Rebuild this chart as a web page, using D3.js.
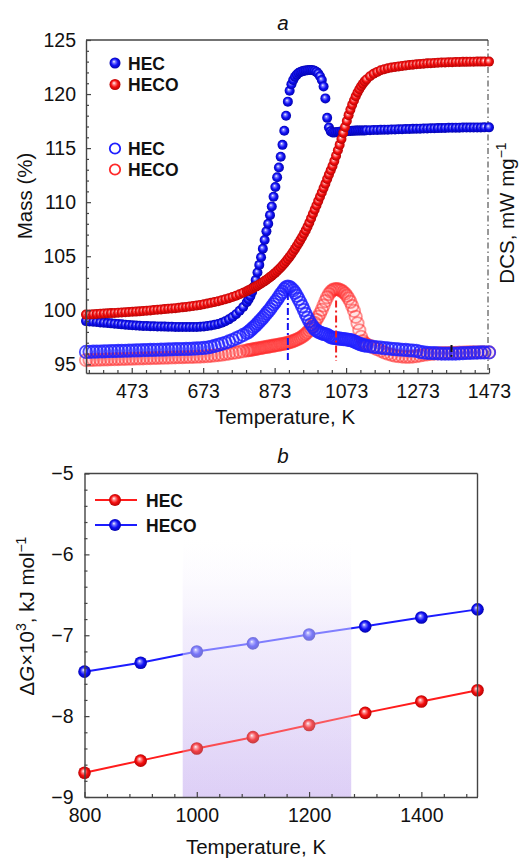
<!DOCTYPE html>
<html>
<head>
<meta charset="utf-8">
<script src="https://cdn.jsdelivr.net/npm/d3@7"></script>
<style>
  body { margin: 0; background: #fff; }
  text { font-family: "Liberation Sans", Arial, sans-serif; fill: #111; }
</style>
</head>
<body>
<svg id="chart" width="524" height="859"></svg>
<script>
// ---- panel a: TG (mass) and DSC curves ----
// temperature grid of the instrument (K); denser through the transitions
const temps = [...d3.range(345, 800, 10), ...d3.range(800, 1135, 5), ...d3.range(1140, 1470, 10), 1473]

const hecMass = [
  99.00, 98.97, 98.94, 98.91, 98.88, 98.85, 98.82, 98.79, 98.76, 98.73,
  98.70, 98.67, 98.64, 98.61, 98.59, 98.57, 98.55, 98.54, 98.53, 98.52,
  98.51, 98.50, 98.49, 98.48, 98.47, 98.46, 98.46, 98.45, 98.45, 98.45,
  98.45, 98.46, 98.48, 98.51, 98.55, 98.60, 98.66, 98.74, 98.84, 98.98,
  99.16, 99.38, 99.64, 99.95, 100.30, 100.75,
  101.00, 101.30, 101.70, 102.20, 102.80, 103.50, 104.20, 104.90, 105.70, 106.50,
  107.30, 108.00, 108.80, 109.60, 110.50, 111.40, 112.30, 113.20, 114.20, 115.30,
  116.60, 118.00, 119.30, 120.30, 120.90, 121.30, 121.60, 121.80, 121.95, 122.05,
  122.10, 122.15, 122.18, 122.20, 122.22, 122.22, 122.20, 122.15, 122.05, 121.90,
  121.65, 121.30, 120.70, 119.60, 117.80, 116.90, 116.55, 116.45, 116.45, 116.47,
  116.50, 116.52, 116.54, 116.55, 116.56, 116.57, 116.58, 116.59, 116.60, 116.61,
  116.62, 116.62, 116.63, 116.63, 116.64, 116.64, 116.65,
  116.66, 116.67, 116.68, 116.69, 116.70, 116.71, 116.72, 116.73, 116.74, 116.75,
  116.76, 116.77, 116.78, 116.79, 116.80, 116.81, 116.82, 116.83, 116.84, 116.85,
  116.86, 116.87, 116.88, 116.88, 116.89, 116.89, 116.90, 116.90, 116.90, 116.91,
  116.91, 116.91, 116.92,
  116.92
]

const hecoMass = [
  99.60, 99.62, 99.64, 99.66, 99.68, 99.70, 99.72, 99.74, 99.76, 99.78,
  99.80, 99.82, 99.84, 99.86, 99.88, 99.90, 99.93, 99.96, 99.99, 100.02,
  100.05, 100.08, 100.11, 100.14, 100.17, 100.20, 100.23, 100.27, 100.31, 100.35,
  100.40, 100.45, 100.50, 100.56, 100.62, 100.69, 100.76, 100.84, 100.93, 101.02,
  101.12, 101.23, 101.35, 101.48, 101.62, 101.77,
  101.85, 101.93, 102.01, 102.10, 102.19, 102.28, 102.38, 102.48, 102.59, 102.70,
  102.82, 102.94, 103.07, 103.20, 103.34, 103.48, 103.63, 103.79, 103.96, 104.14,
  104.33, 104.53, 104.74, 104.96, 105.19, 105.43, 105.68, 105.94, 106.21, 106.49,
  106.78, 107.08, 107.39, 107.72, 108.10, 108.50, 108.90, 109.30, 109.70, 110.10,
  110.50, 110.90, 111.30, 111.70, 112.15, 112.55, 112.95, 113.35, 113.80, 114.30,
  114.80, 115.30, 115.85, 116.40, 116.95, 117.50, 118.05, 118.55, 119.00, 119.40,
  119.80, 120.15, 120.45, 120.72, 120.96, 121.17, 121.35,
  121.65, 121.88, 122.05, 122.20, 122.30, 122.38, 122.45, 122.50, 122.55, 122.60,
  122.64, 122.68, 122.72, 122.75, 122.78, 122.81, 122.84, 122.86, 122.88, 122.90,
  122.92, 122.93, 122.94, 122.95, 122.96, 122.97, 122.98, 122.98, 122.99, 122.99,
  123.00, 123.00, 123.00,
  123.00
]

// DSC has no scale on the right axis: values are given in left-axis units
const hecDsc = [
  96.15, 96.16, 96.17, 96.18, 96.19, 96.20, 96.21, 96.22, 96.23, 96.24,
  96.25, 96.26, 96.27, 96.28, 96.29, 96.30, 96.31, 96.32, 96.33, 96.34,
  96.35, 96.36, 96.37, 96.38, 96.39, 96.40, 96.41, 96.42, 96.43, 96.44,
  96.45, 96.47, 96.49, 96.52, 96.56, 96.62, 96.70, 96.80, 96.90, 97.00,
  97.12, 97.25, 97.40, 97.55, 97.72, 97.90,
  98.00, 98.15, 98.30, 98.45, 98.60, 98.77, 98.95, 99.13, 99.30, 99.50,
  99.70, 99.90, 100.10, 100.33, 100.56, 100.78, 101.00, 101.25, 101.50, 101.70,
  101.95, 102.12, 102.20, 102.15, 102.02, 101.85, 101.62, 101.35, 101.05, 100.72,
  100.38, 100.02, 99.66, 99.31, 98.98, 98.70, 98.47, 98.28, 98.13, 98.02,
  97.94, 97.87, 97.82, 97.78, 97.74, 97.62, 97.52, 97.46, 97.44, 97.42,
  97.40, 97.38, 97.36, 97.34, 97.32, 97.30, 97.27, 97.24, 97.20, 97.13,
  97.05, 96.97, 96.90, 96.84, 96.79, 96.75, 96.72,
  96.67, 96.62, 96.58, 96.55, 96.50, 96.47, 96.44, 96.41, 96.38, 96.35,
  96.33, 96.30, 96.28, 96.25, 96.15, 96.10, 96.07, 96.05, 96.03, 96.02,
  96.00, 96.00, 96.00, 96.00, 96.00, 96.02, 96.03, 96.05, 96.07, 96.08,
  96.09, 96.10, 96.10,
  96.10
]

const hecoDsc = [
  95.40, 95.41, 95.42, 95.43, 95.44, 95.45, 95.46, 95.47, 95.48, 95.49,
  95.50, 95.51, 95.52, 95.53, 95.54, 95.55, 95.56, 95.57, 95.58, 95.59,
  95.60, 95.61, 95.62, 95.63, 95.64, 95.65, 95.66, 95.67, 95.68, 95.69,
  95.70, 95.71, 95.72, 95.74, 95.76, 95.79, 95.82, 95.86, 95.90, 95.95,
  96.00, 96.05, 96.10, 96.16, 96.22, 96.28,
  96.31, 96.34, 96.37, 96.40, 96.43, 96.46, 96.49, 96.52, 96.55, 96.58,
  96.61, 96.64, 96.67, 96.70, 96.73, 96.76, 96.79, 96.82, 96.85, 96.88,
  96.91, 96.95, 97.00, 97.05, 97.10, 97.16, 97.22, 97.29, 97.37, 97.46,
  97.56, 97.68, 97.82, 97.98, 98.16, 98.37, 98.60, 98.85, 99.12, 99.40,
  99.70, 100.05, 100.45, 100.85, 101.20, 101.50, 101.72, 101.86, 101.94, 101.97,
  101.95, 101.90, 101.82, 101.70, 101.55, 101.35, 101.10, 100.78, 100.40, 99.95,
  99.40, 98.80, 98.15, 97.55, 97.15, 96.95, 96.85,
  96.70, 96.55, 96.40, 96.25, 96.10, 95.98, 95.88, 95.80, 95.75, 95.72,
  95.70, 95.70, 95.72, 95.76, 95.82, 95.88, 95.93, 95.97, 96.00, 96.02,
  96.03, 96.04, 96.05, 96.06, 96.07, 96.08, 96.09, 96.10, 96.10, 96.11,
  96.11, 96.12, 96.12,
  96.12
]

// peak markers (dash-dot drop lines): temperature, top and bottom value
const peakTemps = [910, 1045, 1368]
const peakTops = [101.6, 100.9, 96.8]
const peakBottoms = [95.2, 95.3, 95.7]

const xTicksA = [473, 673, 873, 1073, 1273, 1473]
const yTicksA = [95, 100, 105, 110, 115, 120, 125]

// ---- panel b: Gibbs energy ----
const tempsB = [800, 900, 1000, 1100, 1200, 1300, 1400, 1500]
const hecG = [-8.70, -8.55, -8.40, -8.26, -8.11, -7.96, -7.82, -7.68]
const hecoG = [-7.45, -7.34, -7.20, -7.10, -6.99, -6.89, -6.78, -6.68]
const shadeRange = [975, 1275]
const xTicksB = [800, 1000, 1200, 1400]
const yTicksB = [-9, -8, -7, -6, -5]

const blue = '#1414f0'

const svg = d3.select('#chart')
const defs = svg.append('defs')

function sphereGrad(id, light, mid, dark) {
  const g = defs.append('radialGradient').attr('id', id)
    .attr('cx', '50%').attr('cy', '50%').attr('r', '55%')
    .attr('fx', '40%').attr('fy', '36%')
  g.append('stop').attr('offset', '0%').attr('stop-color', '#ffffff')
  g.append('stop').attr('offset', '22%').attr('stop-color', light)
  g.append('stop').attr('offset', '55%').attr('stop-color', mid)
  g.append('stop').attr('offset', '100%').attr('stop-color', dark)
}
sphereGrad('sph-blue', '#7d7dff', '#1010f5', '#0000a0')
sphereGrad('sph-red', '#ff8c8c', '#f51010', '#a80000')

const tickFont = 19.5
const titleFont = 20.5

function styleAxis(g) {
  g.select('.domain').attr('stroke', '#444').attr('stroke-width', 1.4)
  g.selectAll('.tick line').attr('stroke', '#444').attr('stroke-width', 1.2)
  g.selectAll('.tick text')
    .attr('font-size', tickFont)
    .attr('fill', '#111')
    .attr('font-family', '"Liberation Sans", Arial, sans-serif')
}

// ================= panel a =================
const xA = d3.scaleLinear().domain([345, 1473]).range([86, 489])
const yA = d3.scaleLinear().domain([94.2, 125]).range([373, 40])

const gA = svg.append('g')

gA.append('text').attr('x', 283).attr('y', 30).attr('text-anchor', 'middle')
  .attr('font-size', titleFont).attr('font-style', 'italic').text('a')

// frame: top solid, right dash-dot
gA.append('line').attr('x1', 86).attr('x2', 488).attr('y1', 40).attr('y2', 40)
  .attr('stroke', '#444').attr('stroke-width', 1.4)
gA.append('line').attr('x1', 488).attr('x2', 488).attr('y1', 40).attr('y2', 373)
  .attr('stroke', '#333').attr('stroke-width', 1).attr('stroke-dasharray', '6,3,1.5,3')

const massPts = (vals) => vals.map((v, i) => ({ t: temps[i], v: v }))

function openSeries(vals, color, opacity) {
  gA.append('g').selectAll('circle')
    .data(massPts(vals))
    .enter()
    .append('circle')
    .attr('cx', d => xA(d.t))
    .attr('cy', d => yA(d.v))
    .attr('r', 6.2)
    .attr('fill', color)
    .attr('fill-opacity', 0.06)
    .attr('stroke', color)
    .attr('stroke-opacity', opacity)
    .attr('stroke-width', 1.8)
}
function filledSeries(vals, grad) {
  gA.append('g').selectAll('circle')
    .data(massPts(vals))
    .enter()
    .append('circle')
    .attr('cx', d => xA(d.t))
    .attr('cy', d => yA(d.v))
    .attr('r', 5)
    .attr('fill', `url(#${grad})`)
}

openSeries(hecoDsc, '#ff2a2a', 0.5)
openSeries(hecDsc, '#2020ff', 0.8)

// dash-dot drop lines at the DSC peaks
const peakColors = [blue, '#f02020', '#111']
gA.append('g').selectAll('line')
  .data(peakTemps)
  .enter()
  .append('line')
  .attr('x1', d => xA(d))
  .attr('x2', d => xA(d))
  .attr('y1', (d, i) => yA(peakTops[i]))
  .attr('y2', (d, i) => yA(peakBottoms[i]))
  .attr('stroke', (d, i) => peakColors[i])
  .attr('stroke-width', 2)
  .attr('stroke-dasharray', '7,3,2,3')

filledSeries(hecMass, 'sph-blue')
filledSeries(hecoMass, 'sph-red')

// axes a
const axLeftA = gA.append('g').attr('transform', 'translate(86,0)')
  .call(d3.axisLeft(yA).tickValues(yTicksA).tickSize(-5).tickSizeOuter(0).tickPadding(10)
    .tickFormat(d3.format('d')))
styleAxis(axLeftA)
const minorYA = d3.range(95, 125).filter(v => v % 5 !== 0)
const axLeftAm = gA.append('g').attr('transform', 'translate(86,0)')
  .call(d3.axisLeft(yA).tickValues(minorYA).tickSize(-3).tickFormat(''))
axLeftAm.select('.domain').remove()
styleAxis(axLeftAm)

const axBotA = gA.append('g').attr('transform', 'translate(0,373)')
  .call(d3.axisBottom(xA).tickValues(xTicksA).tickSize(-5).tickSizeOuter(0).tickPadding(11)
    .tickFormat(d3.format('d')))
styleAxis(axBotA)
const minorXA = d3.range(353, 1474, 40).filter(v => !xTicksA.includes(v))
const axBotAm = gA.append('g').attr('transform', 'translate(0,373)')
  .call(d3.axisBottom(xA).tickValues(minorXA).tickSize(-3).tickFormat(''))
axBotAm.select('.domain').remove()
styleAxis(axBotAm)

gA.append('text').attr('x', 285).attr('y', 424).attr('text-anchor', 'middle')
  .attr('font-size', titleFont).text('Temperature, K')
gA.append('text').attr('transform', 'translate(32,196) rotate(-90)')
  .attr('text-anchor', 'middle').attr('font-size', titleFont).text('Mass (%)')

const dcs = gA.append('text').attr('transform', 'translate(514,213) rotate(-90)')
  .attr('text-anchor', 'middle').attr('font-size', titleFont)
dcs.append('tspan').text('DCS, mW mg')
dcs.append('tspan').attr('dy', -8).attr('font-size', 14).text('\u22121')

// legends a
const legA = [
  { y: 63, label: 'HEC', kind: 'filled', grad: 'sph-blue' },
  { y: 84.5, label: 'HECO', kind: 'filled', grad: 'sph-red' },
  { y: 148.5, label: 'HEC', kind: 'open', color: '#2020ff' },
  { y: 169.5, label: 'HECO', kind: 'open', color: '#ff2a2a' }
]
legA.forEach(d => {
  if (d.kind === 'filled') {
    gA.append('circle').attr('cx', 115).attr('cy', d.y).attr('r', 5.5)
      .attr('fill', `url(#${d.grad})`)
  } else {
    gA.append('circle').attr('cx', 115).attr('cy', d.y).attr('r', 5.2)
      .attr('fill', 'none').attr('stroke', d.color).attr('stroke-width', 1.8)
  }
  gA.append('text').attr('x', 128).attr('y', d.y + 6.5)
    .attr('font-size', 17.5).attr('font-weight', 'bold').text(d.label)
})

// ================= panel b =================
const xB = d3.scaleLinear().domain([800, 1500]).range([84.5, 477.5])
const yB = d3.scaleLinear().domain([-9, -5]).range([797, 473.5])

const gB = svg.append('g')
gB.append('text').attr('x', 283).attr('y', 463).attr('text-anchor', 'middle')
  .attr('font-size', titleFont).attr('font-style', 'italic').text('b')

// shaded temperature window
const shadeGrad = defs.append('linearGradient').attr('id', 'shade')
  .attr('x1', 0).attr('y1', 0).attr('x2', 0).attr('y2', 1)
shadeGrad.append('stop').attr('offset', '0%').attr('stop-color', '#ffffff').attr('stop-opacity', 0)
shadeGrad.append('stop').attr('offset', '35%').attr('stop-color', '#efe9fc').attr('stop-opacity', 1)
shadeGrad.append('stop').attr('offset', '100%').attr('stop-color', '#dccdf6').attr('stop-opacity', 1)
const veilGrad = defs.append('linearGradient').attr('id', 'veil')
  .attr('x1', 0).attr('y1', 0).attr('x2', 0).attr('y2', 1)
veilGrad.append('stop').attr('offset', '0%').attr('stop-color', '#ffffff').attr('stop-opacity', 0.5)
veilGrad.append('stop').attr('offset', '45%').attr('stop-color', '#f4f0fd').attr('stop-opacity', 0.45)
veilGrad.append('stop').attr('offset', '100%').attr('stop-color', '#e6dcf8').attr('stop-opacity', 0.12)

gB.append('rect')
  .attr('x', xB(shadeRange[0])).attr('width', xB(shadeRange[1]) - xB(shadeRange[0]))
  .attr('y', yB(-5.8)).attr('height', yB(-9) - yB(-5.8))
  .attr('fill', 'url(#shade)')

const lineB = d3.line().x(d => xB(d.t)).y(d => yB(d.v))
const seriesB = [
  { vals: hecG, color: '#ff1c1c', grad: 'sph-red' },
  { vals: hecoG, color: '#1c1cff', grad: 'sph-blue' }
]
seriesB.forEach(s => {
  const pts = s.vals.map((v, i) => ({ t: tempsB[i], v: v }))
  gB.append('path').datum(pts).attr('d', lineB)
    .attr('fill', 'none').attr('stroke', s.color).attr('stroke-width', 2)
  gB.append('g').selectAll('circle')
    .data(pts)
    .enter()
    .append('circle')
    .attr('cx', d => xB(d.t))
    .attr('cy', d => yB(d.v))
    .attr('r', 6.3)
    .attr('fill', `url(#${s.grad})`)
})

gB.append('rect')
  .attr('x', xB(shadeRange[0])).attr('width', xB(shadeRange[1]) - xB(shadeRange[0]))
  .attr('y', yB(-5.8)).attr('height', yB(-9) - yB(-5.8))
  .attr('fill', 'url(#veil)')

// frame b
gB.append('line').attr('x1', 84.5).attr('x2', 477.5).attr('y1', 473.5).attr('y2', 473.5)
  .attr('stroke', '#444').attr('stroke-width', 1.4)
gB.append('line').attr('x1', 477.5).attr('x2', 477.5).attr('y1', 473.5).attr('y2', 797)
  .attr('stroke', '#444').attr('stroke-width', 1.4)

const axLeftB = gB.append('g').attr('transform', 'translate(84.5,0)')
  .call(d3.axisLeft(yB).tickValues(yTicksB).tickSize(-5).tickSizeOuter(0).tickPadding(11)
    .tickFormat(d => d3.format('d')(d).replace('-', '\u2212')))
styleAxis(axLeftB)
const minorYB = d3.range(1, 20).filter(i => i % 5 !== 0).map(i => -9 + i * 0.2)
const axLeftBm = gB.append('g').attr('transform', 'translate(84.5,0)')
  .call(d3.axisLeft(yB).tickValues(minorYB).tickSize(-3).tickFormat(''))
axLeftBm.select('.domain').remove()
styleAxis(axLeftBm)

const axBotB = gB.append('g').attr('transform', 'translate(0,797)')
  .call(d3.axisBottom(xB).tickValues(xTicksB).tickSize(-5).tickSizeOuter(0).tickPadding(11)
    .tickFormat(d3.format('d')))
styleAxis(axBotB)
const minorXB = d3.range(840, 1500, 40).filter(v => !xTicksB.includes(v))
const axBotBm = gB.append('g').attr('transform', 'translate(0,797)')
  .call(d3.axisBottom(xB).tickValues(minorXB).tickSize(-3).tickFormat(''))
axBotBm.select('.domain').remove()
styleAxis(axBotBm)

gB.append('text').attr('x', 256).attr('y', 854).attr('text-anchor', 'middle')
  .attr('font-size', titleFont).text('Temperature, K')

const gl = gB.append('text').attr('transform', 'translate(34,616) rotate(-90)')
  .attr('text-anchor', 'middle').attr('font-size', titleFont)
gl.append('tspan').text('\u0394')
gl.append('tspan').attr('font-style', 'italic').text('G')
gl.append('tspan').text('\u00d710')
gl.append('tspan').attr('dy', -8).attr('font-size', 14).text('3')
gl.append('tspan').attr('dy', 8).text(', kJ mol')
gl.append('tspan').attr('dy', -8).attr('font-size', 14).text('\u22121')

// legend b
const legB = [
  { y: 500, label: 'HEC', color: '#ff1c1c', grad: 'sph-red' },
  { y: 525, label: 'HECO', color: '#1c1cff', grad: 'sph-blue' }
]
legB.forEach(d => {
  gB.append('line').attr('x1', 95).attr('x2', 137).attr('y1', d.y).attr('y2', d.y)
    .attr('stroke', d.color).attr('stroke-width', 2)
  gB.append('circle').attr('cx', 115).attr('cy', d.y).attr('r', 6)
    .attr('fill', `url(#${d.grad})`)
  gB.append('text').attr('x', 146).attr('y', d.y + 6.5)
    .attr('font-size', 17.5).attr('font-weight', 'bold').text(d.label)
})
</script>
</body>
</html>
